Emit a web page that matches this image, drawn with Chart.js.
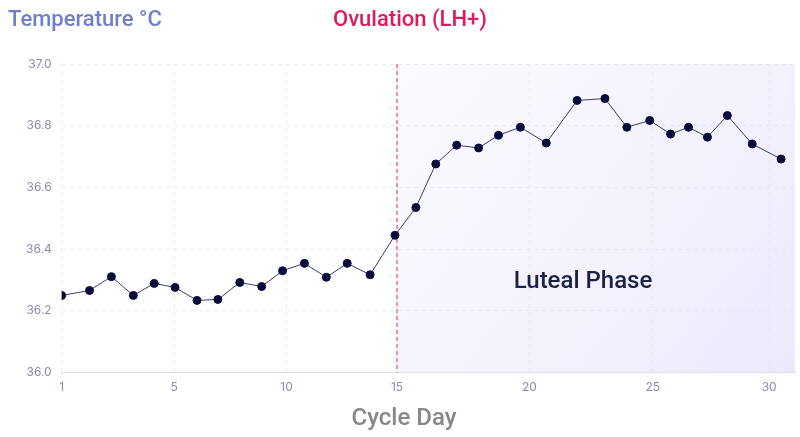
<!DOCTYPE html>
<html>
<head>
<meta charset="utf-8">
<script src="https://cdn.jsdelivr.net/npm/chart.js@4"></script>
<style>
  body { margin: 0; background: #fff; }
  #wrap { width: 800px; height: 437px; }
</style>
</head>
<body>
<div id="wrap"><canvas id="bbtChart"></canvas></div>
<script>
/* ================= DATA ================= */
// x positions (axis units = horizontal position)
const pointPos = [60, 88, 110, 132, 153, 174, 196, 217, 239, 261, 282, 304, 326, 347, 370, 395,
  416, 436, 457, 479, 499, 521, 547, 578, 606, 628, 651, 672, 690, 709, 729, 754, 783];
const temps = [36.25, 36.266, 36.311, 36.25, 36.289, 36.276, 36.234, 36.237, 36.292, 36.279,
  36.33, 36.354, 36.309, 36.354, 36.317, 36.445, 36.535, 36.676, 36.737, 36.728, 36.769,
  36.795, 36.744, 36.882, 36.888, 36.795, 36.817, 36.773, 36.795, 36.763, 36.833, 36.741, 36.692];
const dayTickPos = [60, 173, 286, 397, 530, 654, 771];
const dayLabels = ["1", "5", "10", "15", "20", "25", "30"];
const tempTicks = [36.0, 36.2, 36.4, 36.6, 36.8, 37.0];
const ovulationPos = 397;

/* ================= OVERLAY PLUGIN ================= */
const overlay = {
  id: "overlay",
  beforeDatasetsDraw(chart) {
    const { ctx, chartArea: a, scales: { x } } = chart;
    const ox = x.getPixelForValue(ovulationPos);
    const g = ctx.createLinearGradient(ox, a.top, a.right, a.bottom);
    g.addColorStop(0, "rgba(240,238,252,0.3)");
    g.addColorStop(1, "rgba(228,226,250,0.75)");
    ctx.save();
    ctx.fillStyle = g;
    ctx.fillRect(ox, a.top, a.right - ox, a.bottom - a.top);
    ctx.strokeStyle = "#f0507a";
    ctx.lineWidth = 1.2;
    ctx.setLineDash([4, 3]);
    ctx.beginPath();
    ctx.moveTo(ox, a.top);
    ctx.lineTo(ox, a.bottom);
    ctx.stroke();
    ctx.restore();
  },
  afterDraw(chart) {
    const { ctx } = chart;
    ctx.save();
    ctx.textBaseline = "middle";
    ctx.font = "500 22px Roboto";
    ctx.textAlign = "left";
    ctx.fillStyle = "#6f80c8";
    ctx.fillText("Temperature °C", 8, 20);
    ctx.textAlign = "center";
    ctx.fillStyle = "#e3175e";
    ctx.fillText("Ovulation (LH+)", 410, 20);
    ctx.fillStyle = "#888";
    ctx.font = "500 24px Roboto";
    ctx.fillText("Cycle Day", 404, 419);
    ctx.fillStyle = "#1c2145";
    ctx.font = "500 24px Roboto";
    ctx.fillText("Luteal Phase", 583, 282);
    ctx.restore();
  }
};

/* ================= CHART ================= */
new Chart(document.getElementById("bbtChart"), {
  type: "line",
  data: {
    datasets: [{
      data: pointPos.map((p, i) => ({ x: p, y: temps[i] })),
      borderColor: "#3b3d6e",
      borderWidth: 1,
      pointBackgroundColor: "#0b0b3b",
      pointBorderColor: "#0b0b3b",
      pointRadius: 4,
      tension: 0
    }]
  },
  options: {
    responsive: true,
    maintainAspectRatio: false,
    animation: false,
    layout: { padding: { top: 64, right: 3, bottom: 34, left: 16 } },
    plugins: { legend: { display: false }, tooltip: { enabled: false } },
    scales: {
      x: {
        type: "linear",
        min: 60,
        max: 797,
        afterBuildTicks: axis => { axis.ticks = dayTickPos.map(v => ({ value: v })); },
        ticks: {
          color: "#8a8cae",
          font: { family: "Inter", size: 12 },
          padding: 8,
          callback: (v, i) => dayLabels[i]
        },
        grid: { color: "#ebe9f2", drawTicks: false, tickBorderDash: [4, 4] },
        border: { color: "#dcdbe8", dash: [4, 4] }
      },
      y: {
        min: 36.0,
        max: 37.0,
        afterBuildTicks: axis => { axis.ticks = tempTicks.map(v => ({ value: v })); },
        ticks: {
          color: "#8a8cae",
          font: { family: "Inter", size: 12 },
          padding: 10,
          callback: v => v.toFixed(1)
        },
        grid: { color: "#ebe9f2", drawTicks: false },
        border: { display: false, dash: [4, 4] }
      }
    }
  },
  plugins: [overlay]
});
</script>
</body>
</html>
